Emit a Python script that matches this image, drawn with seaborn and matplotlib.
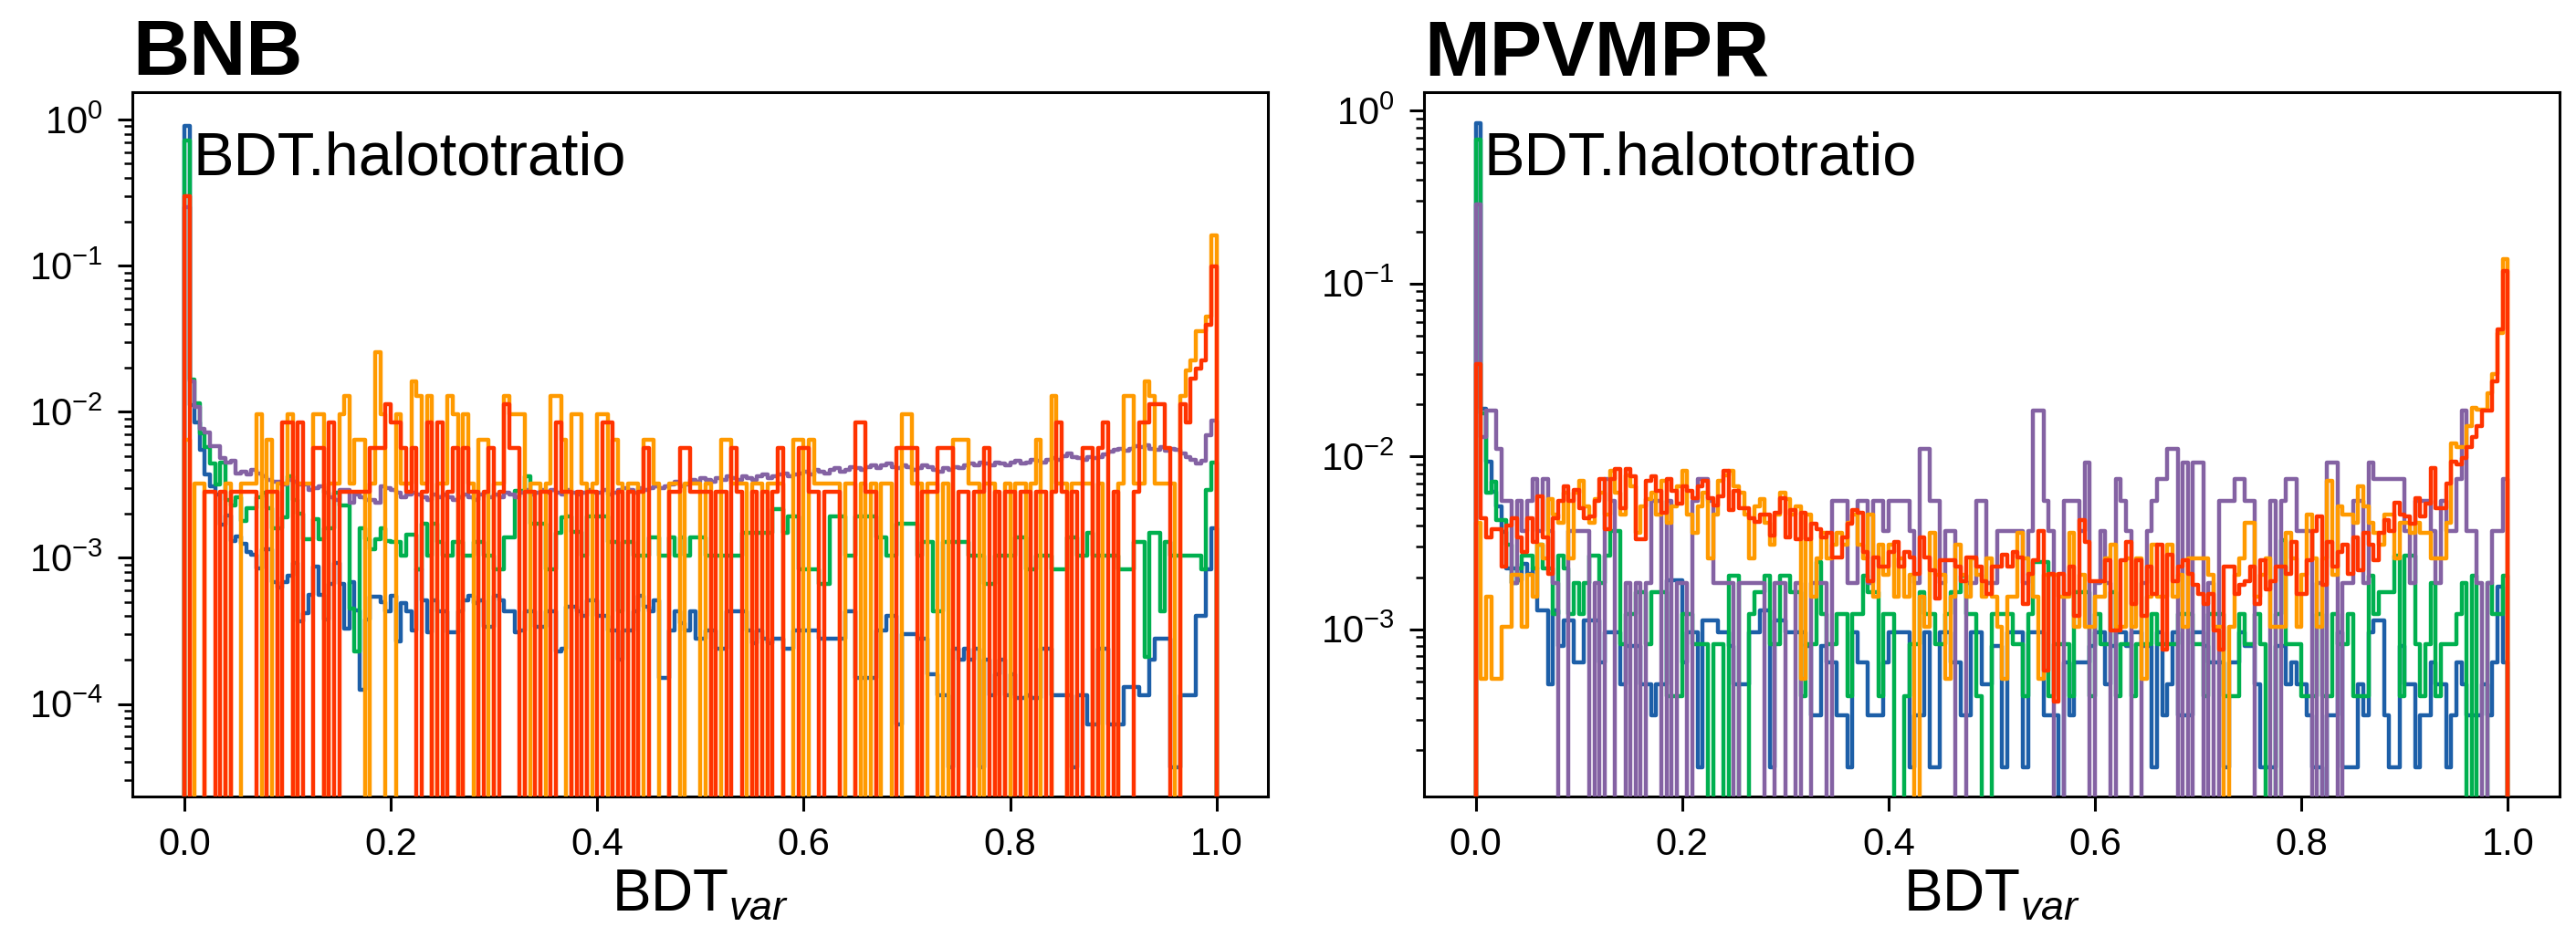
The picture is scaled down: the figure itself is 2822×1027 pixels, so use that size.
import numpy as np
import matplotlib
matplotlib.use('Agg')
import matplotlib.pyplot as plt
import seaborn as sns

plt.rcParams['font.family'] = ['Liberation Sans', 'DejaVu Sans']
plt.rcParams['mathtext.fontset'] = 'custom'
plt.rcParams['mathtext.rm'] = 'Liberation Sans'
plt.rcParams['mathtext.it'] = 'Liberation Sans:italic'
plt.rcParams['mathtext.bf'] = 'Liberation Sans:bold'

# %%
# 200 bins on [0, 1], bin by bin

# BNB, in units of 1e-4
bnb_blue = [
    9100, 111, 84, 55, 37, 31, 27, 17, 19.5, 13,
    14, 12.5, 11, 10.5, 8.5, 11.5, 11.5, 6.8, 6.3, 6.8,
    7.5, 9.3, 3.7, 4.2, 5.6, 8.7, 5.6, 3.8, 6.6, 9.2,
    6.6, 3.3, 6.8, 4.4, 1.26, 3.8, 5.4, 5.4, 5.0, 4.3,
    5.5, 2.7, 4.9, 4.3, 3.2, 8.3, 5.1, 3.1, 5.1, 4.3,
    4.3, 3.1, 3.1, 4.3, 5.1, 5.5, 4.9, 5.1, 3.4, 3.4,
    5.5, 5.1, 4.3, 4.3, 3.1, 3.2, 4.3, 4.3, 3.4, 3.4,
    4.3, 4.3, 2.3, 2.4, 4.6, 4.6, 4.3, 4.0, 5.1, 5.1,
    4.0, 4.0, 3.2, 3.2, 2.0, 3.2, 3.2, 4.3, 5.5, 4.6,
    4.3, 5.1, 1.5, 1.5, 3.2, 4.3, 3.6, 3.2, 4.3, 2.8,
    2.8, 3.2, 3.2, 2.4, 2.4, 4.3, 4.3, 4.3, 4.3, 3.2,
    2.6, 3.2, 2.8, 2.6, 2.8, 2.8, 2.4, 2.4, 3.2, 3.2,
    3.2, 3.2, 3.2, 2.8, 2.8, 2.8, 2.8, 2.8, 4.3, 4.3,
    1.5, 1.5, 1.5, 1.5, 3.2, 3.2, 4.0, 4.0, 0.73, 3.0,
    3.0, 3.0, 2.8, 2.8, 1.6, 1.6, 1.15, 1.15, 0.37, 2.4,
    2.0, 2.4, 2.0, 2.4, 0.37, 2.0, 1.15, 1.6, 2.0, 1.15,
    1.6, 1.1, 1.1, 1.15, 1.1, 1.1, 2.4, 2.4, 1.15, 1.15,
    1.15, 1.15, 0.37, 1.15, 1.15, 0.73, 0.73, 2.4, 2.4, 0.73,
    0.73, 0.73, 1.3, 1.3, 1.3, 1.15, 1.15, 2.0, 2.8, 2.8,
    2.8, 0.37, 0.37, 1.15, 1.15, 1.15, 4.0, 4.0, 8.3, 16,
]
bnb_green = [
    7200, 166, 114, 71, 57, 44, 32, 45, 25, 23,
    26, 18, 22, 22, 26, 28, 22, 16, 16, 19,
    36, 25, 20, 13.5, 13.5, 18.5, 13.5, 16, 16, 28,
    23, 23, 4.5, 2.3, 16, 13.5, 11.4, 13.5, 16, 13,
    12.8, 12.8, 10.3, 14.5, 14.5, 8.3, 17.2, 10.3, 17.2, 12.8,
    10.3, 10.3, 12.8, 12.8, 10.3, 10.3, 12.8, 12.8, 10.3, 10.3,
    8.3, 8.3, 13.8, 13.8, 28.8, 28.8, 36, 17.2, 17.2, 17.2,
    8.3, 8.3, 14.9, 19, 19.2, 15, 15, 10.3, 19.2, 19.2,
    19.2, 19.2, 12.8, 12.8, 4.3, 12.8, 12.8, 10.3, 10.3, 10.3,
    13.8, 13.8, 10.3, 10.3, 13.8, 10.3, 13.8, 10.3, 13.8, 13.8,
    13.8, 10.3, 10.3, 10.3, 10.3, 10.3, 10.3, 10.3, 14.9, 14.9,
    14.9, 14.9, 14.9, 14.9, 21.5, 21.5, 14.9, 19.2, 19.2, 8.3,
    8.3, 8.3, 8.3, 6.6, 6.6, 19.2, 19.2, 19.2, 10.3, 10.3,
    19.2, 19.2, 19.2, 19.2, 13.8, 13.8, 10.3, 10.3, 17.2, 17.2,
    17.2, 17.2, 10.3, 12.8, 12.8, 4.3, 4.3, 12.8, 12.8, 12.8,
    12.8, 12.8, 10.3, 10.3, 10.3, 6.6, 6.6, 10.3, 10.3, 10.3,
    10.3, 13.8, 13.8, 8.3, 8.3, 10.3, 10.3, 10.3, 8.3, 8.3,
    8.3, 13.8, 13.8, 10.3, 10.3, 14.9, 10.3, 10.3, 10.3, 10.3,
    10.3, 8.3, 8.3, 8.3, 12.8, 12.8, 2.1, 14.9, 14.9, 4.3,
    12.8, 10.3, 10.3, 10.3, 10.3, 10.3, 10.3, 8.3, 29, 45,
]
bnb_purple = [
    2500, 162, 108, 76, 72, 58, 58, 48, 45, 46,
    38, 39, 37, 40, 38, 36, 34, 33, 33, 32,
    34, 33, 32, 32, 29, 30, 31, 28, 26, 25,
    29, 29, 24, 27, 26, 25, 25, 24, 31, 30,
    29, 28, 26, 27, 28, 27, 26, 25, 27, 26,
    27, 26, 25, 26, 27, 26, 25, 27, 28, 26,
    27, 26, 28, 27, 26, 28, 29, 27, 28, 29,
    28, 29, 28, 27, 29, 28, 27, 28, 29, 28,
    28, 29, 27, 28, 29, 30, 29, 28, 30, 29,
    30, 31, 30, 31, 32, 33, 31, 32, 34, 33,
    35, 34, 33, 35, 34, 36, 35, 34, 36, 35,
    34, 36, 37, 35, 36, 37, 38, 36, 37, 38,
    39, 37, 40, 39, 38, 40, 41, 39, 40, 42,
    41, 40, 42, 43, 41, 43, 44, 42, 41, 43,
    42, 40, 41, 43, 42, 40, 39, 41, 40, 42,
    41, 43, 44, 43, 45, 44, 43, 45, 44, 43,
    45, 46, 44, 45, 47, 46, 45, 47, 48, 47,
    50, 52, 49, 48, 47, 49, 48, 49, 51, 53,
    55, 56, 54, 56, 58, 57, 59, 56, 55, 57,
    54, 56, 55, 52, 49, 47, 44, 46, 69, 87,
]
# BNB low-statistics samples, event counts per bin
bnb_orange = [
    2, 0, 1, 1, 0, 0, 0, 0, 1, 0,
    0, 1, 1, 1, 3, 0, 2, 0, 1, 1,
    3, 0, 1, 1, 1, 3, 3, 0, 1, 1,
    3, 4, 1, 2, 2, 0, 1, 8, 3, 0,
    0, 3, 1, 1, 5, 4, 1, 4, 0, 1,
    1, 4, 3, 0, 3, 1, 0, 2, 2, 0,
    1, 1, 4, 3, 3, 3, 0, 1, 1, 0,
    1, 4, 4, 2, 0, 3, 3, 1, 0, 1,
    3, 3, 0, 2, 1, 0, 1, 1, 0, 2,
    2, 1, 0, 0, 1, 1, 0, 1, 1, 1,
    0, 1, 0, 0, 2, 2, 1, 1, 1, 0,
    1, 1, 0, 1, 1, 1, 0, 0, 2, 2,
    0, 2, 1, 1, 1, 1, 1, 0, 1, 1,
    0, 1, 0, 1, 0, 1, 1, 0, 0, 3,
    3, 1, 1, 0, 1, 1, 0, 1, 0, 2,
    2, 2, 1, 1, 0, 1, 1, 0, 0, 1,
    0, 1, 1, 0, 1, 2, 0, 0, 4, 1,
    1, 0, 1, 1, 1, 1, 0, 1, 0, 0,
    0, 1, 4, 4, 1, 1, 5, 4, 1, 1,
    1, 1, 0, 4, 6, 7, 11, 11, 14, 50,
]
bnb_red = [
    106, 0, 0, 0, 1, 1, 0, 1, 0, 1,
    1, 1, 1, 1, 0, 0, 1, 1, 0, 3,
    3, 0, 3, 0, 0, 2, 2, 0, 3, 0,
    1, 1, 1, 1, 1, 1, 2, 2, 2, 4,
    3, 3, 2, 1, 2, 0, 1, 3, 0, 3,
    0, 1, 2, 0, 2, 1, 1, 0, 1, 2,
    0, 1, 4, 2, 2, 0, 1, 1, 0, 1,
    1, 0, 3, 1, 1, 0, 1, 0, 1, 1,
    0, 3, 3, 0, 1, 0, 1, 0, 1, 2,
    0, 0, 0, 0, 1, 1, 2, 2, 1, 1,
    1, 1, 0, 1, 1, 0, 2, 1, 0, 0,
    1, 0, 1, 0, 1, 2, 0, 0, 0, 2,
    2, 1, 1, 0, 1, 1, 1, 0, 0, 0,
    3, 3, 1, 1, 0, 0, 0, 0, 2, 2,
    2, 2, 0, 1, 1, 1, 2, 2, 2, 0,
    1, 1, 0, 1, 1, 2, 0, 1, 0, 1,
    1, 0, 1, 1, 0, 1, 1, 0, 1, 3,
    1, 0, 1, 0, 2, 2, 0, 2, 3, 0,
    1, 0, 0, 0, 1, 3, 3, 4, 4, 4,
    2, 0, 0, 4, 3, 6, 7, 8, 14, 35,
]

# MPVMPR, event counts per bin (red in units of 1e-4)
mpv_blue = [
    5300, 118, 58, 39, 32, 23, 14, 14, 12, 15,
    13, 14, 8, 8, 3, 8, 5, 7, 7, 4,
    4, 7, 7, 7, 4, 6, 6, 6, 3, 5,
    5, 5, 3, 3, 2, 3, 3, 12, 12, 12,
    4, 6, 6, 1, 7, 7, 7, 6, 6, 5,
    3, 3, 3, 6, 6, 8, 8, 1, 7, 7,
    6, 6, 6, 6, 5, 2, 2, 5, 4, 4,
    2, 2, 1, 6, 4, 4, 2, 2, 2, 4,
    6, 6, 6, 6, 1, 2, 2, 6, 1, 1,
    6, 6, 4, 4, 2, 2, 6, 6, 3, 3,
    5, 5, 1, 6, 6, 6, 1, 6, 6, 6,
    2, 2, 2, 0, 4, 2, 4, 4, 4, 5,
    6, 6, 3, 5, 6, 6, 5, 6, 6, 5,
    5, 1, 6, 2, 3, 6, 2, 2, 2, 6,
    6, 5, 4, 4, 4, 1, 4, 4, 6, 5,
    5, 3, 1, 1, 1, 5, 5, 3, 4, 3,
    3, 2, 1, 1, 0, 2, 2, 6, 1, 1,
    1, 3, 2, 6, 7, 7, 2, 1, 1, 5,
    3, 3, 1, 2, 2, 4, 3, 3, 1, 2,
    4, 3, 2, 2, 2, 3, 2, 4, 11, 4,
]
mpv_green = [
    3300, 87, 30, 35, 21, 21, 15, 9, 11, 13,
    13, 11, 15, 11, 11, 6, 13, 11, 6, 9,
    6, 9, 13, 13, 9, 13, 18, 18, 4, 6,
    6, 8, 8, 4, 8, 8, 8, 2, 2, 2,
    6, 6, 4, 4, 4, 0, 4, 4, 0, 10,
    10, 0, 0, 6, 8, 8, 10, 4, 4, 10,
    10, 8, 8, 2, 4, 4, 12, 6, 4, 4,
    6, 6, 2, 6, 6, 10, 8, 8, 2, 6,
    6, 0, 0, 2, 4, 4, 8, 6, 6, 4,
    4, 6, 8, 8, 10, 6, 6, 2, 0, 0,
    6, 6, 6, 6, 4, 4, 2, 6, 12, 12,
    12, 2, 4, 4, 4, 2, 8, 8, 8, 2,
    6, 4, 4, 8, 2, 4, 4, 2, 4, 4,
    4, 6, 4, 4, 4, 4, 6, 6, 6, 4,
    4, 2, 6, 6, 6, 2, 2, 2, 6, 4,
    4, 6, 4, 0, 0, 6, 16, 4, 4, 4,
    2, 2, 2, 6, 2, 2, 6, 4, 4, 6,
    2, 2, 2, 10, 6, 8, 8, 8, 13, 2,
    13, 13, 4, 2, 4, 9, 2, 4, 4, 4,
    6, 9, 0, 10, 0, 0, 9, 6, 6, 10,
]
mpv_purple = [
    155, 7, 10, 10, 6, 3, 3, 1, 3, 2,
    3, 4, 2, 4, 2, 1, 0, 0, 2, 2,
    2, 2, 0, 1, 0, 4, 3, 0, 0, 1,
    0, 1, 0, 1, 3, 3, 0, 3, 0, 1,
    1, 0, 3, 4, 4, 3, 1, 1, 1, 1,
    0, 1, 1, 1, 1, 1, 0, 0, 1, 1,
    0, 0, 1, 0, 0, 1, 1, 1, 0, 3,
    3, 3, 1, 1, 3, 3, 1, 3, 3, 2,
    3, 3, 3, 3, 2, 1, 6, 6, 3, 3,
    1, 2, 2, 0, 0, 1, 1, 3, 3, 1,
    1, 2, 2, 2, 2, 2, 1, 2, 10, 10,
    3, 2, 0, 0, 3, 3, 3, 2, 5, 0,
    1, 2, 1, 0, 4, 3, 2, 0, 0, 1,
    2, 3, 4, 4, 6, 6, 0, 5, 0, 5,
    5, 0, 1, 0, 3, 3, 3, 4, 4, 3,
    3, 0, 0, 0, 3, 0, 3, 4, 4, 2,
    2, 2, 0, 1, 0, 5, 5, 0, 1, 1,
    3, 3, 1, 5, 4, 4, 4, 4, 4, 4,
    2, 1, 3, 3, 3, 2, 1, 3, 2, 2,
    4, 10, 2, 2, 1, 0, 1, 2, 2, 4,
]
mpv_orange = [
    8, 1, 3, 1, 1, 2, 2, 4, 4, 2,
    4, 3, 6, 5, 11, 9, 8, 12, 5, 12,
    14, 10, 8, 11, 12, 9, 16, 12, 9, 15,
    13, 7, 10, 11, 12, 9, 14, 8, 10, 13,
    16, 9, 7, 10, 12, 5, 9, 14, 15, 16,
    13, 12, 9, 5, 10, 11, 8, 6, 9, 12,
    11, 9, 10, 1, 9, 3, 5, 7, 5, 6,
    7, 6, 8, 9, 6, 5, 9, 3, 6, 4,
    6, 3, 5, 3, 4, 0, 3, 2, 7, 4,
    4, 1, 3, 6, 4, 3, 5, 4, 3, 5,
    3, 2, 1, 3, 3, 7, 5, 4, 3, 1,
    4, 4, 4, 3, 3, 7, 2, 4, 2, 2,
    3, 3, 5, 6, 2, 2, 5, 2, 5, 1,
    3, 6, 3, 3, 6, 3, 4, 2, 5, 5,
    5, 5, 4, 2, 2, 0, 2, 4, 5, 8,
    8, 3, 4, 5, 2, 2, 2, 7, 5, 2,
    4, 9, 5, 2, 5, 14, 4, 10, 9, 9,
    8, 13, 10, 8, 7, 6, 9, 9, 5, 8,
    8, 7, 8, 7, 7, 5, 5, 5, 8, 23,
    22, 22, 29, 37, 36, 36, 45, 58, 100, 270,
]
mpv_red = [
    340, 44, 34, 38, 38, 23, 40, 44, 34, 28,
    44, 32, 59, 34, 21, 44, 55, 67, 55, 64,
    50, 44, 45, 55, 74, 38, 74, 85, 50, 85,
    77, 33, 33, 72, 77, 63, 47, 74, 63, 53,
    67, 63, 57, 67, 72, 57, 52, 59, 83, 49,
    63, 50, 50, 44, 42, 46, 46, 35, 47, 57,
    34, 49, 33, 47, 33, 41, 38, 34, 36, 26,
    26, 34, 41, 49, 47, 28, 19, 26, 23, 23,
    28, 32, 23, 28, 26, 21, 34, 26, 22, 15,
    25, 25, 25, 23, 19, 26, 26, 23, 19, 16,
    23, 23, 27, 23, 28, 26, 14, 21, 25, 37,
    5.8, 21, 3.8, 21, 16, 23, 12, 43, 32, 19,
    19, 19, 25, 9.8, 9.8, 25, 32, 14, 25, 12,
    23, 16, 31, 7.6, 27, 19, 23, 25, 21, 18,
    16, 14, 16, 9.8, 7.6, 23, 23, 16, 18, 19,
    23, 14, 25, 17, 19, 23, 23, 21, 32, 16,
    16, 25, 37, 45, 18, 32, 23, 28, 31, 21,
    34, 22, 36, 31, 25, 36, 43, 37, 54, 46,
    45, 41, 57, 45, 53, 86, 50, 50, 70, 93,
    90, 98, 113, 129, 149, 185, 185, 270, 540, 1180,
]

# size of one entry of each list, as a fraction of the sample
bnb_units = {'blue': 1e-4, 'green': 1e-4, 'purple': 1e-4, 'orange': 3.22e-3, 'red': 2.83e-3}
mpv_units = {'blue': 1.6e-4, 'green': 2.05e-4, 'purple': 1.85e-3, 'orange': 5.15e-4, 'red': 1e-4}

colors = {
    'blue': '#1d5fa8',
    'green': '#00b04f',
    'purple': '#8462a3',
    'orange': '#ff9a00',
    'red': '#ff3300',
}

panels = [
    ('BNB', {'blue': bnb_blue, 'green': bnb_green, 'purple': bnb_purple,
             'orange': bnb_orange, 'red': bnb_red}, bnb_units, (2.33e-5, 1.53)),
    ('MPVMPR', {'blue': mpv_blue, 'green': mpv_green, 'purple': mpv_purple,
                'orange': mpv_orange, 'red': mpv_red}, mpv_units, (1.08e-4, 1.27)),
]

# %%
n_bins = 200
w = 1.0 / n_bins
# an empty bin on each side so the outline drops to the floor at 0 and 1
ext_edges = np.linspace(-w, 1 + w, n_bins + 3)
centers = 0.5 * (ext_edges[:-1] + ext_edges[1:])

fig = plt.figure(figsize=(14.11, 5.135), dpi=200)
ax_pos = [[0.0515, 0.150, 0.4408, 0.7512], [0.5528, 0.150, 0.4408, 0.7512]]

for pos, (name, series, units, ylim) in zip(ax_pos, panels):
    ax = fig.add_axes(pos)
    for i, key in enumerate(['blue', 'green', 'purple', 'orange', 'red']):
        vals = np.asarray(series[key], dtype=float)
        assert len(vals) == n_bins, (name, key, len(vals))
        h = np.concatenate([[0.0], vals * units[key], [0.0]])
        sns.histplot(x=centers, weights=h, bins=n_bins + 2, binrange=(-w, 1 + w),
                     element='step', fill=False, color=colors[key], linewidth=1.6,
                     ax=ax, zorder=2 + i)
    ax.set_yscale('log')
    ax.set_xlim(-0.05, 1.05)
    ax.set_ylim(*ylim)
    ax.set_xticks([0.0, 0.2, 0.4, 0.6, 0.8, 1.0])
    ax.set_ylabel('')
    ax.set_xlabel('BDT$_{var}$', fontsize=23, labelpad=2)
    ax.set_title(name, loc='left', fontsize=31, fontweight='bold', pad=7)
    ax.text(0.053, 0.883, 'BDT.halototratio', transform=ax.transAxes,
            fontsize=24, va='baseline', ha='left', zorder=10)
    ax.tick_params(which='major', labelsize=15, length=5.8, width=1.1, pad=6)
    ax.tick_params(which='minor', length=3.2, width=0.9)
    for s in ax.spines.values():
        s.set_linewidth(1.1)
        s.set_color('black')

fig.savefig('out.png', dpi=200)
